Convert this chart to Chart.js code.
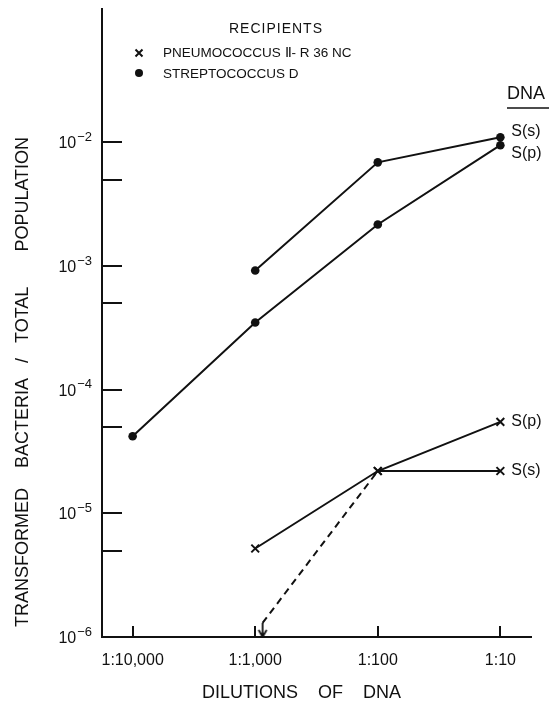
<!DOCTYPE html>
<html>
<head>
<meta charset="utf-8">
<script src="https://cdn.jsdelivr.net/npm/chart.js@4/dist/chart.umd.min.js"></script>
<style>
  html, body { margin: 0; padding: 0; background: #fff; }
  #wrap { width: 553px; height: 704px; }
</style>
</head>
<body>
<div id="wrap"><canvas id="graficoDna"></canvas></div>
<script>
// Datos
const dilutions = ['1:10,000', '1:1,000', '1:100', '1:10'];
const dilutionPos = [0, 1, 2, 3];
const strepSs = [null, 9.2e-4, 6.9e-3, 1.1e-2];
const strepSp = [4.2e-5, 3.5e-4, 2.17e-3, 9.5e-3];
const pneumoSp = [null, 5.2e-6, 2.2e-5, 5.5e-5];
const pneumoSs = [null, null, 2.2e-5, 2.2e-5];
// S(s) en neumococo a 1:1,000 queda por debajo de 10^-6 (línea discontinua + flecha)
const pneumoSsLimitX = [1.06];
const pneumoSsLimitY = [1.3e-6];
const yTickValues = [1e-6, 5e-6, 1e-5, 5e-5, 1e-4, 5e-4, 1e-3, 5e-3, 1e-2];
const recipients = ['PNEUMOCOCCUS Ⅱ- R 36 NC', 'STREPTOCOCCUS D'];
const dnaLabels = ['S(s)', 'S(p)'];

const FAMILY = '"Liberation Sans", Arial, sans-serif';
const INK = '#111';

function puntos(valores) {
    return valores.map((v, i) => v === null ? null : { x: dilutionPos[i], y: v }).filter(p => p);
}

// flecha hacia abajo para el punto bajo el límite
const flecha = document.createElement('canvas');
flecha.width = 12;
flecha.height = 30;
const fctx = flecha.getContext('2d');
fctx.strokeStyle = INK;
fctx.lineWidth = 1.8;
fctx.beginPath();
fctx.moveTo(6, 15); fctx.lineTo(6, 29);
fctx.moveTo(2, 22); fctx.lineTo(6, 29); fctx.lineTo(10, 22);
fctx.stroke();

const marcasEjes = {
    id: 'marcasEjes',
    afterDraw(chart) {
        const ctx = chart.ctx;
        const area = chart.chartArea;
        const sx = chart.scales.x, sy = chart.scales.y;
        ctx.save();
        ctx.strokeStyle = INK;
        ctx.lineWidth = 2;
        ctx.beginPath();
        sy.ticks.forEach(t => {
            const py = Math.round(sy.getPixelForValue(t.value));
            ctx.moveTo(area.left, py);
            ctx.lineTo(area.left + 20, py);
        });
        sx.ticks.forEach(t => {
            const px = Math.round(sx.getPixelForValue(t.value));
            ctx.moveTo(px, area.bottom);
            ctx.lineTo(px, area.bottom - 11);
        });
        ctx.stroke();

        // etiquetas 10^n del eje y
        ctx.fillStyle = INK;
        ctx.textBaseline = 'alphabetic';
        sy.ticks.forEach(t => {
            const exp = Math.round(Math.log10(t.value));
            if (Math.abs(Math.log10(t.value) - exp) > 1e-6) return;
            const py = sy.getPixelForValue(t.value);
            const right = area.left - 10;
            ctx.font = '13px ' + FAMILY;
            ctx.textAlign = 'right';
            const expTxt = '\u2212' + Math.abs(exp);
            ctx.fillText(expTxt, right, py - 1.5);
            const w = ctx.measureText(expTxt).width;
            ctx.font = '16px ' + FAMILY;
            ctx.fillText('10', right - w - 1, py + 6);
        });

        // etiquetas de ADN al final de cada línea
        ctx.font = '16px ' + FAMILY;
        ctx.textAlign = 'left';
        ctx.textBaseline = 'middle';
        chart.data.datasets.forEach((ds, i) => {
            const meta = chart.getDatasetMeta(i);
            const last = meta.data[meta.data.length - 1];
            ctx.fillText(ds.etiqueta, last.x + 11, last.y + ds.dy);
        });

        // encabezado DNA
        ctx.font = '18px ' + FAMILY;
        ctx.fillText('DNA', 507, 94);
        const wd = ctx.measureText('DNA').width;
        ctx.lineWidth = 1.5;
        ctx.beginPath();
        ctx.moveTo(507, 108);
        ctx.lineTo(507 + wd + 4, 108);
        ctx.stroke();

        // leyenda de receptores
        ctx.font = '14px ' + FAMILY;
        ctx.textAlign = 'center';
        if ('letterSpacing' in ctx) ctx.letterSpacing = '1px';
        ctx.fillText('RECIPIENTS', 276, 29);
        if ('letterSpacing' in ctx) ctx.letterSpacing = '0px';
        ctx.font = '13.5px ' + FAMILY;
        ctx.textAlign = 'left';
        ctx.fillText(recipients[0], 163, 53);
        ctx.fillText(recipients[1], 163, 74);
        ctx.lineWidth = 2;
        ctx.beginPath();
        ctx.moveTo(135.5, 49.5); ctx.lineTo(142.5, 56.5);
        ctx.moveTo(142.5, 49.5); ctx.lineTo(135.5, 56.5);
        ctx.stroke();
        ctx.beginPath();
        ctx.arc(139, 73, 4, 0, Math.PI * 2);
        ctx.fill();
        ctx.restore();
    }
};

const comun = {
    borderColor: INK,
    backgroundColor: INK,
    borderWidth: 2,
    pointBorderColor: INK,
    pointBackgroundColor: INK,
    pointBorderWidth: 2,
    tension: 0,
    clip: false
};

const ctx = document.getElementById('graficoDna').getContext('2d');
const grafico = new Chart(ctx, {
    type: 'line',
    data: {
        datasets: [
            Object.assign({}, comun, {
                label: recipients[1] + ' ' + dnaLabels[0],
                data: puntos(strepSs),
                pointStyle: 'circle',
                pointRadius: 4.3,
                pointBorderWidth: 0,
                etiqueta: dnaLabels[0],
                dy: -6
            }),
            Object.assign({}, comun, {
                label: recipients[1] + ' ' + dnaLabels[1],
                data: puntos(strepSp),
                pointStyle: 'circle',
                pointRadius: 4.3,
                pointBorderWidth: 0,
                etiqueta: dnaLabels[1],
                dy: 8
            }),
            Object.assign({}, comun, {
                label: recipients[0] + ' ' + dnaLabels[1],
                data: puntos(pneumoSp),
                pointStyle: 'crossRot',
                pointRadius: 5.5,
                etiqueta: dnaLabels[1],
                dy: 0
            }),
            Object.assign({}, comun, {
                label: recipients[0] + ' ' + dnaLabels[0],
                data: pneumoSsLimitX.map((x, i) => ({ x: x, y: pneumoSsLimitY[i] })).concat(puntos(pneumoSs)),
                pointStyle: c => c.dataIndex === 0 ? flecha : 'crossRot',
                pointRadius: 5.5,
                segment: {
                    borderDash: c => c.p0DataIndex === 0 ? [7, 5] : undefined
                },
                etiqueta: dnaLabels[0],
                dy: 0
            })
        ]
    },
    options: {
        responsive: true,
        maintainAspectRatio: false,
        animation: false,
        layout: { padding: { top: 9, right: 22, left: 0, bottom: 0 } },
        plugins: {
            legend: { display: false },
            tooltip: { enabled: false }
        },
        scales: {
            x: {
                type: 'linear',
                min: -0.25,
                max: 3.25,
                afterBuildTicks: s => { s.ticks = dilutionPos.map(v => ({ value: v })); },
                afterFit: s => { s.height = 67; },
                grid: { display: false },
                border: { display: true, color: INK, width: 2 },
                ticks: {
                    autoSkip: false,
                    maxRotation: 0,
                    padding: 6,
                    color: INK,
                    font: { family: FAMILY, size: 16 },
                    callback: v => dilutions[v]
                },
                title: {
                    display: true,
                    text: 'DILUTIONS    OF    DNA      ',
                    color: INK,
                    font: { family: FAMILY, size: 18 },
                    padding: { top: 1, bottom: 0 }
                }
            },
            y: {
                type: 'logarithmic',
                min: 1e-6,
                max: 0.12,
                afterBuildTicks: s => { s.ticks = yTickValues.map(v => ({ value: v })); },
                afterFit: s => { s.width = 102; },
                grid: { display: false },
                border: { display: true, color: INK, width: 2 },
                ticks: { display: false },
                title: {
                    display: true,
                    text: '  TRANSFORMED    BACTERIA   /   TOTAL       POPULATION',
                    align: 'start',
                    color: INK,
                    font: { family: FAMILY, size: 18 },
                    padding: { top: 12, bottom: 0 }
                }
            }
        }
    },
    plugins: [marcasEjes]
});
</script>
</body>
</html>
